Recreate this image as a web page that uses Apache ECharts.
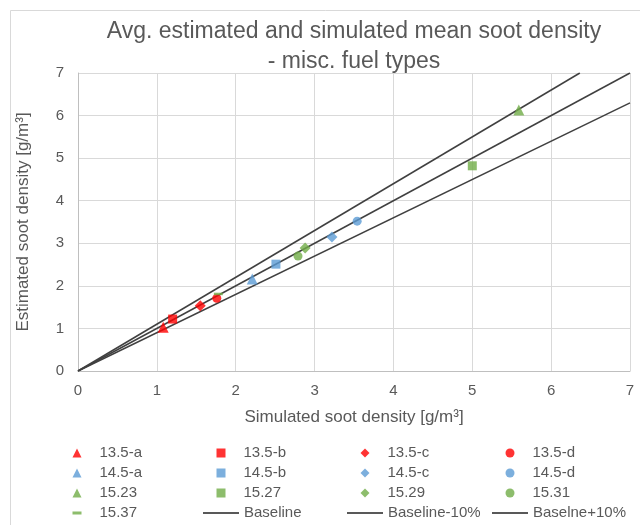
<!DOCTYPE html>
<html>
<head>
<meta charset="utf-8">
<script src="https://cdn.jsdelivr.net/npm/echarts@6/dist/echarts.min.js"></script>
<style>html,body{margin:0;padding:0;background:#fff;}#c{width:640px;height:525px;}</style>
</head>
<body>
<div id="c"></div>
<script>
// ---- data ----
const titleLines = ['Avg. estimated and simulated mean soot density', '- misc. fuel types'];
const xAxisName = 'Simulated soot density [g/m³]';
const yAxisName = 'Estimated soot density [g/m³]';
const axisTicks = [0, 1, 2, 3, 4, 5, 6, 7];

const s135a = [[1.08, 1.03]];
const s135b = [[1.20, 1.22]];
const s135c = [[1.55, 1.53]];
const s135d = [[1.76, 1.71]];
const s145a = [[2.21, 2.16]];
const s145b = [[2.51, 2.51]];
const s145c = [[3.22, 3.15]];
const s145d = [[3.54, 3.52]];
const s1523 = [[5.59, 6.13]];
const s1527 = [[5.00, 4.82]];
const s1529 = [[2.88, 2.89]];
const s1531 = [[2.79, 2.70]];
const s1537 = [[1.78, 1.81]];
const baseline = [[0, 0], [7, 7]];
const baselineMinus10 = [[0, 0], [7, 6.3]];
const baselinePlus10 = [[0, 0], [6.364, 7]];

const RED = '#FF0000', BLUE = '#5B9BD5', GREEN = '#70AD47', LINE = '#404040';
const FONT = 'Liberation Sans';
const TXT = '#595959';

function sc(name, data, symbol, size, color) {
  return { name, type: 'scatter', data, symbol, symbolSize: size, itemStyle: { color }, z: 5 };
}
function ln(name, data) {
  return { name, type: 'line', data, symbol: 'none', lineStyle: { color: LINE, width: 1.5 }, itemStyle: { color: LINE }, z: 3 };
}

const series = [
  sc('13.5-a', s135a, 'triangle', 11, RED),
  sc('13.5-b', s135b, 'rect', 9, RED),
  sc('13.5-c', s135c, 'diamond', 11, RED),
  sc('13.5-d', s135d, 'circle', 9, RED),
  sc('14.5-a', s145a, 'triangle', 11, BLUE),
  sc('14.5-b', s145b, 'rect', 9, BLUE),
  sc('14.5-c', s145c, 'diamond', 11, BLUE),
  sc('14.5-d', s145d, 'circle', 9, BLUE),
  sc('15.23', s1523, 'triangle', 11, GREEN),
  sc('15.27', s1527, 'rect', 9, GREEN),
  sc('15.29', s1529, 'diamond', 11, GREEN),
  sc('15.31', s1531, 'circle', 9, GREEN),
  sc('15.37', s1537, 'rect', [9, 2.5], GREEN),
  ln('Baseline', baseline),
  ln('Baseline-10%', baselineMinus10),
  ln('Baselne+10%', baselinePlus10)
];

const legendText = { color: TXT, fontSize: 15, fontFamily: FONT, lineHeight: 16 };
const ROW1 = 445;
function legS(center, names, extra) {
  return Object.assign({
    orient: 'vertical', left: center - 4.5, top: ROW1, itemWidth: 9, itemHeight: 9, itemGap: 4,
    data: names, selectedMode: false, padding: 0,
    textStyle: Object.assign({}, legendText, { padding: [0, 0, 0, 13] })
  }, extra || {});
}
function legL(left, name) {
  return {
    orient: 'vertical', left, top: ROW1 + 60, itemWidth: 36, itemHeight: 2,
    data: [{ name, icon: 'path://M0,0H36V2H0Z' }], selectedMode: false, padding: 0,
    itemStyle: { color: '#595959' }, textStyle: legendText
  };
}

const chart = echarts.init(document.getElementById('c'), null, { renderer: 'canvas' });
chart.setOption({
  animation: false,
  backgroundColor: '#fff',
  textStyle: { fontFamily: FONT },
  graphic: [{
    type: 'rect', shape: { x: 10.5, y: 10.5, width: 700, height: 600 },
    style: { fill: 'none', stroke: '#d9d9d9', lineWidth: 1 }, silent: true, z: -10
  }],
  title: [{
    text: titleLines.join('\n'), left: 349, top: 12, textAlign: 'center',
    textStyle: { color: TXT, fontSize: 23, fontWeight: 'normal', fontFamily: FONT, lineHeight: 30 }
  }],
  grid: { left: 78, top: 73, right: 10, bottom: 154, containLabel: false },
  xAxis: {
    type: 'value', min: axisTicks[0], max: axisTicks[axisTicks.length - 1], interval: 1,
    name: xAxisName, nameLocation: 'middle', nameGap: 38,
    nameTextStyle: { color: TXT, fontSize: 17, fontFamily: FONT },
    axisLine: { show: true, lineStyle: { color: '#bfbfbf', width: 1 } },
    axisTick: { show: false },
    axisLabel: { color: TXT, fontSize: 15, margin: 12, fontFamily: FONT },
    splitLine: { show: true, lineStyle: { color: '#d9d9d9', width: 1 } }
  },
  yAxis: {
    type: 'value', min: axisTicks[0], max: axisTicks[axisTicks.length - 1], interval: 1,
    name: yAxisName, nameLocation: 'middle', nameGap: 46,
    nameTextStyle: { color: TXT, fontSize: 17, fontFamily: FONT },
    axisLine: { show: true, lineStyle: { color: '#bfbfbf', width: 1 } },
    axisTick: { show: false },
    axisLabel: { color: TXT, fontSize: 15, margin: 14, fontFamily: FONT },
    splitLine: { show: true, lineStyle: { color: '#d9d9d9', width: 1 } }
  },
  legend: [
    legS(77, ['13.5-a', '14.5-a', '15.23']),
    legS(77, ['15.37'], { top: ROW1 + 60, itemHeight: 3, textStyle: Object.assign({}, legendText, { padding: [0, 0, 0, 13] }) }),
    legS(221, ['13.5-b', '14.5-b', '15.27']),
    legS(365, ['13.5-c', '14.5-c', '15.29']),
    legS(510, ['13.5-d', '14.5-d', '15.31']),
    legL(203, 'Baseline'),
    legL(347, 'Baseline-10%'),
    legL(492, 'Baselne+10%')
  ],
  series
});
</script>
</body>
</html>
